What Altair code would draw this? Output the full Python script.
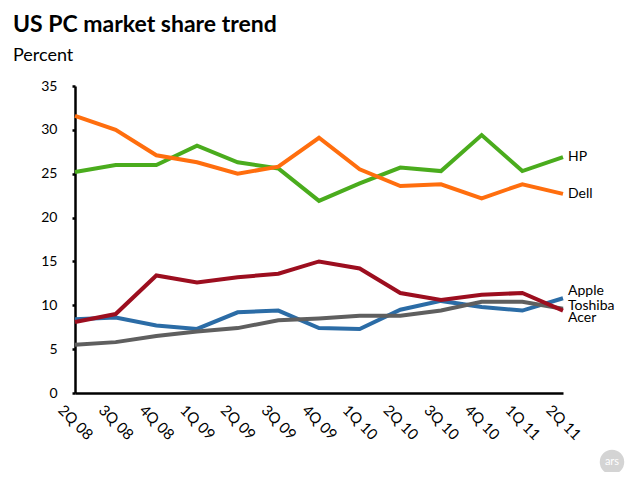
import altair as alt
import pandas as pd

quarters = ["2Q 08", "3Q 08", "4Q 08", "1Q 09", "2Q 09", "3Q 09", "4Q 09",
            "1Q 10", "2Q 10", "3Q 10", "4Q 10", "1Q 11", "2Q 11"]

hp      = [25.2, 26.0, 26.0, 28.2, 26.3, 25.6, 21.9, 23.9, 25.7, 25.3, 29.4, 25.3, 26.9]
dell    = [31.6, 30.0, 27.1, 26.3, 25.0, 25.8, 29.1, 25.5, 23.6, 23.8, 22.2, 23.8, 22.7]
acer    = [8.1, 9.0, 13.4, 12.6, 13.2, 13.6, 15.0, 14.2, 11.4, 10.6, 11.2, 11.4, 9.4]
apple   = [8.4, 8.6, 7.7, 7.3, 9.2, 9.4, 7.4, 7.3, 9.5, 10.5, 9.8, 9.4, 10.8]
toshiba = [5.5, 5.8, 6.5, 7.0, 7.4, 8.3, 8.5, 8.8, 8.8, 9.4, 10.4, 10.4, 9.6]

vendors = ["HP", "Dell", "Apple", "Toshiba", "Acer"]
series = [hp, dell, apple, toshiba, acer]
colors = ["#4aac1d", "#ff6e0e", "#2b6ca6", "#5f5f5f", "#9c0e1f"]
# label anchor values (percent) next to the last quarter
label_pos = [26.9, 22.7, 11.6, 9.9, 8.5]

rows = []
for v, s in zip(vendors, series):
    for q, val in zip(quarters, s):
        rows.append({"quarter": q, "vendor": v, "share": val})
df = pd.DataFrame(rows)

lab = pd.DataFrame({"vendor": vendors, "quarter": [quarters[-1]] * 5, "pos": label_pos})

FONT = "Lato"

xenc = alt.X("quarter:N", sort=quarters, scale=alt.Scale(type="point", padding=0),
             axis=alt.Axis(title=None, labelAngle=45, labelAlign="center", labelBaseline="middle",
                           labelPadding=29, tickSize=0, domainColor="black", domainWidth=2.5,
                           labelFontSize=15, labelColor="black", labelFont=FONT))
color = alt.Color("vendor:N", scale=alt.Scale(domain=vendors, range=colors), legend=None)

lines = alt.Chart(df).mark_line(strokeWidth=4, strokeJoin="miter").encode(
    x=xenc,
    y=alt.Y("share:Q", scale=alt.Scale(domain=[0, 35], nice=False),
            axis=alt.Axis(title=None, values=[0, 5, 10, 15, 20, 25, 30, 35], grid=False,
                          tickSize=3, tickColor="black", tickWidth=2.5,
                          domainColor="black", domainWidth=2.5, labelFontSize=14,
                          labelColor="black", labelPadding=15, labelFont=FONT)),
    color=color,
    detail="vendor:N",
)

labels = alt.Chart(lab).mark_text(align="left", baseline="middle", dx=5, fontSize=14,
                                  font=FONT, color="black").encode(
    x=alt.X("quarter:N", sort=quarters),
    y=alt.Y("pos:Q"),
    text="vendor:N",
)

logo = alt.Chart(pd.DataFrame({"t": ["ars"]})).mark_circle(size=600, color="#d4d4d4", opacity=1).encode(
    x=alt.value(537), y=alt.value(376))
logo_t = alt.Chart(pd.DataFrame({"t": ["ars"]})).mark_text(fontSize=11, color="white", font=FONT).encode(
    x=alt.value(537), y=alt.value(376), text="t:N")

chart = alt.layer(lines, labels, logo, logo_t).properties(
    width=488, height=307,
    title=alt.TitleParams("US PC market share trend", subtitle="Percent", anchor="start",
                          frame="group", dx=-62, offset=14, font=FONT, fontSize=23,
                          fontWeight="bold", color="black", subtitleFont=FONT,
                          subtitleFontSize=18, subtitleColor="black", subtitlePadding=10),
    padding={"left": 67, "top": 78, "right": 69, "bottom": 79},
    autosize=alt.AutoSizeParams(type="none"),
).configure_view(stroke=None)

chart.save("out.html", embed_options={"renderer": "svg", "actions": False})
